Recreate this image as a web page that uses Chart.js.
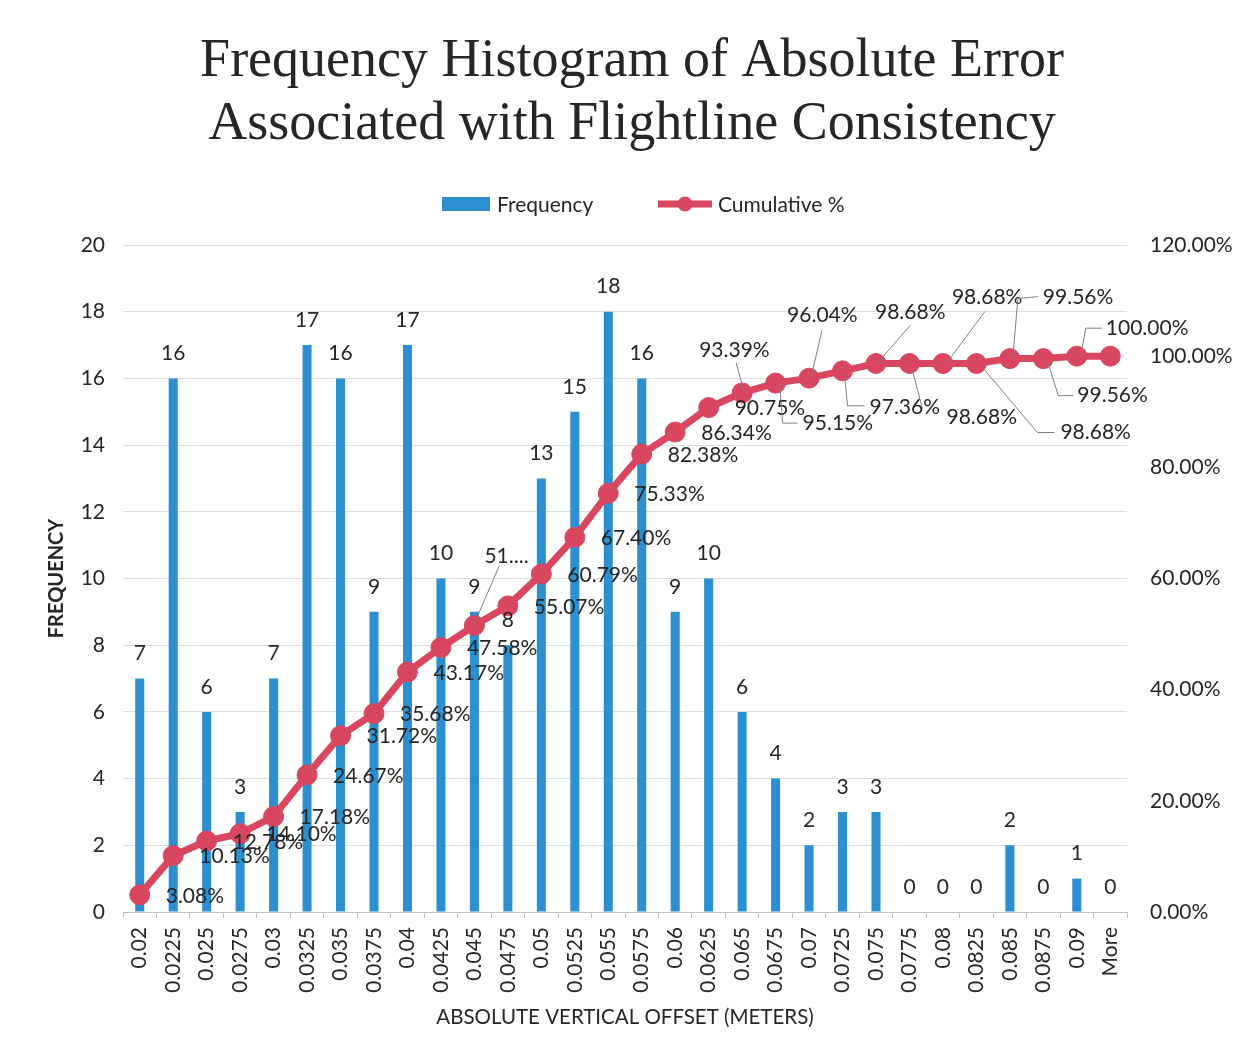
<!DOCTYPE html>
<html>
<head>
<meta charset="utf-8">
<script src="https://cdn.jsdelivr.net/npm/chart.js@4/dist/chart.umd.min.js"></script>
<style>
  html, body { margin: 0; padding: 0; background: #ffffff; }
  #wrap { width: 1251px; height: 1061px; position: relative; }
</style>
</head>
<body>
<div id="wrap"><canvas id="c" width="1251" height="1061"></canvas></div>
<script>
const titleLines = ['Frequency Histogram of Absolute Error', 'Associated with Flightline Consistency'];
const categories = ['0.02','0.0225','0.025','0.0275','0.03','0.0325','0.035','0.0375','0.04','0.0425',
  '0.045','0.0475','0.05','0.0525','0.055','0.0575','0.06','0.0625','0.065','0.0675',
  '0.07','0.0725','0.075','0.0775','0.08','0.0825','0.085','0.0875','0.09','More'];
const frequency = [7,16,6,3,7,17,16,9,17,10,9,8,13,15,18,16,9,10,6,4,2,3,3,0,0,0,2,0,1,0];
const cumulativePct = [3.08,10.13,12.78,14.10,17.18,24.67,31.72,35.68,43.17,47.58,
  51.54,55.07,60.79,67.40,75.33,82.38,86.34,90.75,93.39,95.15,
  96.04,97.36,98.68,98.68,98.68,98.68,99.56,99.56,100.00,100.00];
const cumLabelOverride = {10: '51....'};
const cumLabelHidden = [29];
const leftTicks = {min: 0, max: 20, step: 2};
const rightTicks = {min: 0, max: 120, step: 20};

const BLUE = '#2b8fd0';
const RED = '#d9465f';
const TEXT = '#262626';
const FONT = 'Lato, "Liberation Sans", sans-serif';

// label placement (style only): offsets relative to the point
const labelPlacement = {
  10: {dx: 10, dy: -69, leader: [[0,-2],[25,-60]]},
  18: {dx: -43, dy: -43, leader: [[2,-1],[-6,-30]]},
  19: {dx: 27, dy: 40, leader: [[4,0],[7,40],[22,40]]},
  20: {dx: -22, dy: -63, leader: [[2,-1],[13,-48]]},
  21: {dx: 27, dy: 36, leader: [[2,4],[5,35],[22,35]]},
  22: {dx: -1, dy: -51, leader: [[1,0],[34,-38]]},
  23: {dx: 37, dy: 54, leader: [[3,7],[13,45]]},
  24: {dx: 9, dy: -66, leader: [[4,-1],[42,-52]]},
  25: {dx: 84, dy: 69, leader: [[7,5],[61,69],[78,69]]},
  26: {dx: 33, dy: -61, leader: [[3,-1],[8,-60],[28,-62]]},
  27: {dx: 34, dy: 37, leader: [[4,2],[15,37],[30,37]]},
  28: {dx: 29, dy: -28, leader: [[4,-1],[9,-28],[25,-28]]}
};

const labelsPlugin = {
  id: 'labelsPlugin',
  afterDatasetsDraw(chart) {
    const ctx = chart.ctx;
    ctx.save();
    ctx.font = '21px ' + FONT;
    ctx.fillStyle = TEXT;
    // bar value labels
    const barMeta = chart.getDatasetMeta(0);
    ctx.textAlign = 'center';
    ctx.textBaseline = 'middle';
    barMeta.data.forEach((el, i) => {
      ctx.fillText(String(frequency[i]), el.x, el.y - 25);
    });
    // cumulative labels
    const lineMeta = chart.getDatasetMeta(1);
    lineMeta.data.forEach((el, i) => {
      if (cumLabelHidden.includes(i)) return;
      const txt = cumLabelOverride[i] || (cumulativePct[i].toFixed(2) + '%');
      const p = labelPlacement[i] || {dx: 26, dy: 1};
      if (p.leader) {
        ctx.strokeStyle = '#7f7f7f';
        ctx.lineWidth = 1;
        ctx.beginPath();
        p.leader.forEach((q, k) => {
          if (k === 0) ctx.moveTo(el.x + q[0], el.y + q[1]);
          else ctx.lineTo(el.x + q[0], el.y + q[1]);
        });
        ctx.stroke();
      }
      ctx.fillStyle = TEXT;
      ctx.textAlign = 'left';
      ctx.textBaseline = 'middle';
      ctx.fillText(txt, el.x + p.dx, el.y + p.dy);
    });
    ctx.restore();
  },
  afterDraw(chart) {
    const ctx = chart.ctx;
    ctx.save();
    // title
    ctx.fillStyle = TEXT;
    ctx.textAlign = 'center';
    ctx.textBaseline = 'middle';
    ctx.font = '54px "Liberation Serif", serif';
    ctx.fillText(titleLines[0], 632, 62);
    ctx.fillText(titleLines[1], 632, 125);
    // legend
    ctx.font = '21px ' + FONT;
    ctx.textAlign = 'left';
    ctx.fillStyle = BLUE;
    ctx.fillRect(442, 197, 48, 14);
    ctx.fillStyle = TEXT;
    ctx.fillText(chart.data.datasets[0].label, 497, 205);
    ctx.strokeStyle = RED;
    ctx.lineWidth = 7;
    ctx.beginPath();
    ctx.moveTo(658, 204);
    ctx.lineTo(712, 204);
    ctx.stroke();
    ctx.fillStyle = RED;
    ctx.beginPath();
    ctx.arc(685, 204, 7.5, 0, Math.PI * 2);
    ctx.fill();
    ctx.fillStyle = TEXT;
    ctx.fillText(chart.data.datasets[1].label, 718, 205);
    ctx.restore();
  }
};

new Chart(document.getElementById('c'), {
  type: 'bar',
  data: {
    labels: categories,
    datasets: [
      {
        type: 'bar',
        label: 'Frequency',
        data: frequency,
        backgroundColor: BLUE,
        borderWidth: 0,
        barPercentage: 0.27,
        categoryPercentage: 1.0,
        yAxisID: 'y',
        order: 1
      },
      {
        type: 'line',
        label: 'Cumulative %',
        data: cumulativePct,
        borderColor: RED,
        backgroundColor: RED,
        borderWidth: 7,
        pointRadius: 10,
        pointBackgroundColor: RED,
        pointBorderColor: RED,
        pointBorderWidth: 1,
        tension: 0,
        fill: false,
        yAxisID: 'y1',
        order: 0
      }
    ]
  },
  options: {
    responsive: false,
    animation: false,
    devicePixelRatio: 1,
    layout: { padding: { top: 245, left: 0, right: 0, bottom: 0 } },
    plugins: {
      legend: { display: false },
      title: { display: false },
      tooltip: { enabled: false }
    },
    scales: {
      x: {
        grid: { offset: true, drawOnChartArea: false, drawTicks: true, tickLength: 6, color: '#bfbfbf' },
        border: { display: true, color: '#bfbfbf' },
        ticks: { color: TEXT, font: { family: FONT, size: 21 }, minRotation: 90, maxRotation: 90, padding: 9, autoSkip: false },
        title: { display: true, text: 'ABSOLUTE VERTICAL OFFSET (METERS)', color: TEXT, font: { family: FONT, size: 20.5 }, padding: { top: 0, bottom: 31 } },
        afterFit(scale) { scale.height = 149; }
      },
      y: {
        position: 'left',
        min: leftTicks.min, max: leftTicks.max,
        grid: { color: '#dedede', drawTicks: false },
        border: { display: false },
        ticks: { stepSize: leftTicks.step, color: TEXT, font: { family: FONT, size: 21 }, padding: 18 },
        title: { display: true, text: 'FREQUENCY', color: TEXT, font: { family: FONT, size: 20, weight: 'bold' }, padding: { top: 45, bottom: 0 } },
        afterFit(scale) { scale.width = 123; }
      },
      y1: {
        position: 'right',
        min: rightTicks.min, max: rightTicks.max,
        grid: { drawOnChartArea: false, drawTicks: false },
        border: { display: false },
        ticks: { stepSize: rightTicks.step, color: TEXT, font: { family: FONT, size: 21 }, padding: 23,
          callback: v => v.toFixed(2) + '%' },
        afterFit(scale) { scale.width = 124; }
      }
    }
  },
  plugins: [labelsPlugin]
});
</script>
</body>
</html>
